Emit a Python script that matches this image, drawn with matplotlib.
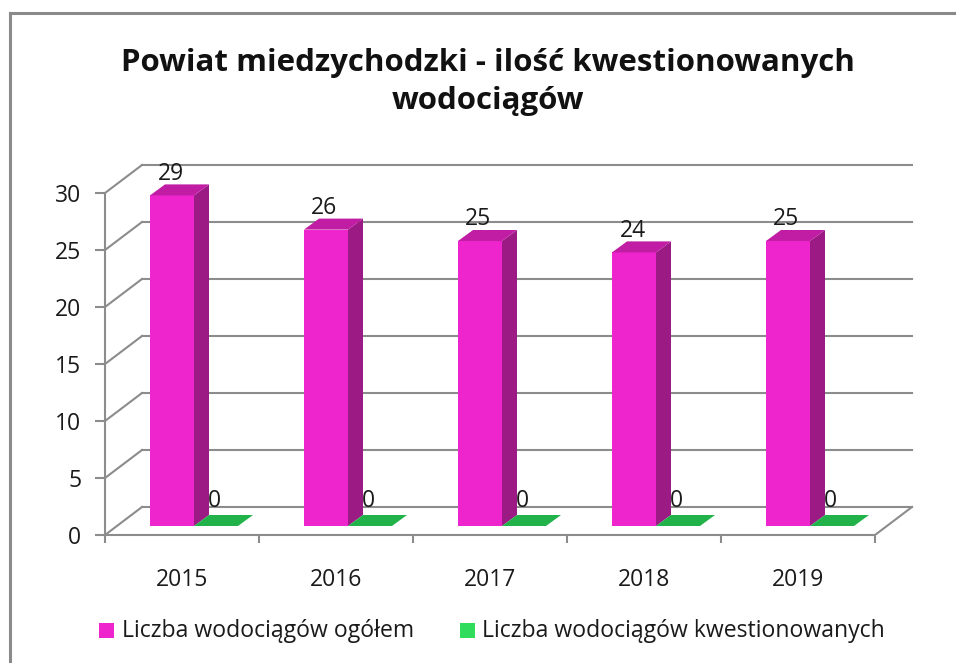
import matplotlib.pyplot as plt
from matplotlib.patches import Polygon
from matplotlib.lines import Line2D
import numpy as np

plt.rcParams['font.family'] = ['Open Sans', 'DejaVu Sans']

# data
years = ['2015', '2016', '2017', '2018', '2019']
total = [29, 26, 25, 24, 25]          # Liczba wodociągów ogółem
questioned = [0, 0, 0, 0, 0]          # Liczba wodociągów kwestionowanych
series_names = ['Liczba wodociągów ogółem', 'Liczba wodociągów kwestionowanych']
yticks = [0, 5, 10, 15, 20, 25, 30]

# colours
pink_front = '#EE24CC'
pink_side = '#9B1A84'
pink_top = '#C01CA4'
green_top = '#22B24A'
green_legend = '#30DC5C'
grid_col = '#8C8C8C'

W, H = 956, 663
fig = plt.figure(figsize=(W / 100, H / 100), dpi=100)

# pixel scale of the plot (front plane)
px_x = 154.0   # pixels per category
px_y = 11.4    # pixels per unit
x0_px, y0_px = 105, 535
xmax, ymax = 5.3, 33.0
ax = fig.add_axes([x0_px / W, (H - y0_px) / H, xmax * px_x / W, ymax * px_y / H])
ax.set_xlim(0, xmax)
ax.set_ylim(0, ymax)

# 3d offsets (converted from pixels to data units)
wall_dx, wall_dy = 37 / px_x, 28 / px_y
bar_dx, bar_dy = 12 / px_x, 9 / px_y
dep_dx, dep_dy = 15 / px_x, 11 / px_y
bw = 44 / px_x

# back wall gridlines + left wall diagonals
for v in yticks:
    ax.plot([wall_dx, 5 + wall_dx], [v + wall_dy, v + wall_dy], color=grid_col, lw=1.5, zorder=1)
    ax.plot([0, wall_dx], [v, v + wall_dy], color=grid_col, lw=1.5, zorder=1)
# floor right edge
ax.plot([5, 5 + wall_dx], [0, wall_dy], color=grid_col, lw=1.5, zorder=1)

# spines / ticks
for s in ['top', 'right']:
    ax.spines[s].set_visible(False)
ax.spines['left'].set_bounds(0, 30)
ax.spines['bottom'].set_bounds(0, 5)
for s in ['left', 'bottom']:
    ax.spines[s].set_color(grid_col)
    ax.spines[s].set_linewidth(1.5)
ax.set_yticks(yticks)
ax.set_xticks(np.arange(6))
ax.set_xticklabels([])
ax.set_xticks(np.arange(5) + 0.5, minor=True)
ax.set_xticklabels(years, minor=True)
ax.tick_params(axis='y', length=7, width=1.5, color=grid_col, labelsize=16.5, pad=10, labelcolor='#1a1a1a')
ax.tick_params(axis='x', which='major', length=6, width=1.5, color=grid_col)
ax.tick_params(axis='x', which='minor', length=0, labelsize=16.5, pad=24, labelcolor='#1a1a1a')
ax.set_facecolor('none')

def box(ax, xl, h, front, side, top, z):
    x = xl + bar_dx
    y = bar_dy
    if h > 0:
        ax.add_patch(Polygon([[x, y], [x + bw, y], [x + bw, y + h], [x, y + h]],
                             closed=True, fc=front, ec='none', zorder=z))
        ax.add_patch(Polygon([[x + bw, y], [x + bw + dep_dx, y + dep_dy],
                              [x + bw + dep_dx, y + h + dep_dy], [x + bw, y + h]],
                             closed=True, fc=side, ec='none', zorder=z))
    ax.add_patch(Polygon([[x, y + h], [x + bw, y + h], [x + bw + dep_dx, y + h + dep_dy],
                          [x + dep_dx, y + h + dep_dy]], closed=True, fc=top, ec='none', zorder=z))

for i in range(len(years)):
    c = i + 0.5
    box(ax, c - bw, total[i], pink_front, pink_side, pink_top, 3)
    box(ax, c, questioned[i], green_top, green_top, green_top, 3)
    ax.text(c - bw / 2 + bar_dx - 0.01, total[i] + 2.7, str(total[i]), ha='center', va='center',
            fontsize=16.5, color='#1a1a1a', zorder=2)
    ax.text(c + bw / 2 + bar_dx - 0.01, questioned[i] + 2.95, str(questioned[i]), ha='center', va='center',
            fontsize=16.5, color='#1a1a1a', zorder=2)

# title
fig.text(488 / W, 1 - 82 / H, 'Powiat miedzychodzki - ilość kwestionowanych\nwodociągów',
         ha='center', va='center', fontsize=22.5, fontweight='bold', linespacing=1.35, color='#111111')

# legend
fig.patches.append(plt.Rectangle((99 / W, 1 - 638 / H), 15 / W, 15 / H, fc=pink_front, ec='none',
                                 transform=fig.transFigure, figure=fig))
fig.text(122 / W, 1 - 631 / H, series_names[0], ha='left', va='center', fontsize=16.6, color='#1a1a1a')
fig.patches.append(plt.Rectangle((460 / W, 1 - 638 / H), 15 / W, 15 / H, fc=green_legend, ec='none',
                                 transform=fig.transFigure, figure=fig))
fig.text(482 / W, 1 - 631 / H, series_names[1], ha='left', va='center', fontsize=16.6, color='#1a1a1a')

# outer frame (left and top visible)
fig.lines.append(Line2D([9.5 / W, 9.5 / W], [0, 1 - 13 / H], color='#8A8A8A', lw=2.2,
                        transform=fig.transFigure, figure=fig))
fig.lines.append(Line2D([9.5 / W, 1], [1 - 13 / H, 1 - 13 / H], color='#8A8A8A', lw=2.2,
                        transform=fig.transFigure, figure=fig))

fig.savefig('out.png', dpi=100)
